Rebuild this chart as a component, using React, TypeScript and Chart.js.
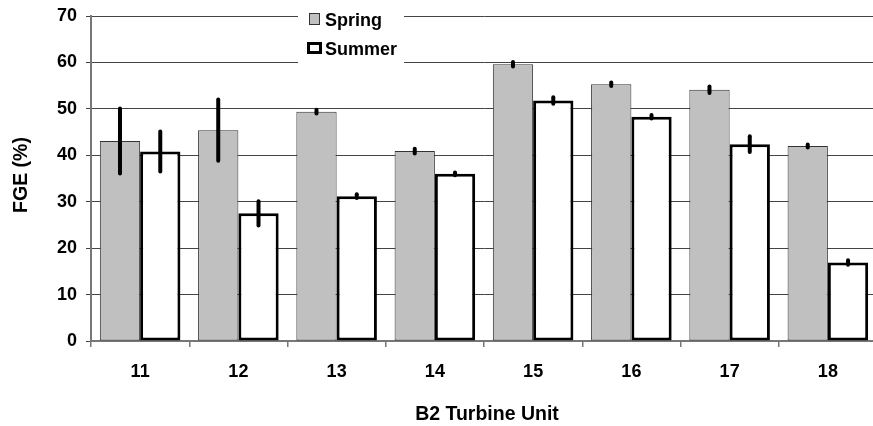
import { useEffect, useRef } from "react";
import { Chart, registerables } from "chart.js";

Chart.register(...registerables);

const categories = ["11", "12", "13", "14", "15", "16", "17", "18"];
const seriesNames = ["Spring", "Summer"];
const springValues = [43.1, 45.4, 49.4, 40.9, 59.6, 55.3, 54.1, 42.0];
const summerValues = [40.8, 27.5, 31.2, 36.0, 51.8, 48.3, 42.4, 16.9];
const springErrors = [7.0, 6.6, 0.4, 0.5, 0.5, 0.4, 0.7, 0.3];
const summerErrors = [4.3, 2.6, 0.4, 0.3, 0.7, 0.4, 1.7, 0.5];
const yMin = 0;
const yMax = 70;
const yStep = 10;
const xTitle = "B2 Turbine Unit";
const yTitle = "FGE (%)";

const FONT = '"Liberation Sans", Arial, sans-serif';

const errorBarPlugin = {
  id: "errorBars",
  afterDatasetsDraw(chart: any) {
    const ctx = chart.ctx;
    const yScale = chart.scales.y;
    const errs = [springErrors, summerErrors];
    ctx.save();
    ctx.strokeStyle = "#000";
    ctx.lineWidth = 4;
    ctx.lineCap = "round";
    chart.data.datasets.forEach((ds: any, di: number) => {
      const meta = chart.getDatasetMeta(di);
      meta.data.forEach((bar: any, i: number) => {
        const v = ds.data[i];
        const e = errs[di][i];
        const y1 = yScale.getPixelForValue(v + e);
        const y2 = yScale.getPixelForValue(v - e);
        ctx.beginPath();
        ctx.moveTo(bar.x, y1);
        ctx.lineTo(bar.x, y2);
        ctx.stroke();
      });
    });
    ctx.restore();
  },
};

const decorPlugin = {
  id: "decor",
  afterDraw(chart: any) {
    const ctx = chart.ctx;
    ctx.save();
    ctx.fillStyle = "#000";
    ctx.font = `bold 19.5px ${FONT}`;
    ctx.textAlign = "center";
    ctx.textBaseline = "alphabetic";
    ctx.fillText(xTitle, 487, 420);
    ctx.save();
    ctx.translate(27, 175);
    ctx.rotate(-Math.PI / 2);
    ctx.fillText(yTitle, 0, 0);
    ctx.restore();

    // legend
    ctx.fillStyle = "#fff";
    ctx.fillRect(298, 0, 106, 68);
    const ds = chart.data.datasets;
    ctx.fillStyle = ds[0].backgroundColor;
    ctx.fillRect(309, 13, 11, 12);
    ctx.strokeStyle = ds[0].borderColor;
    ctx.lineWidth = 1;
    ctx.strokeRect(309.5, 13.5, 10, 11);
    ctx.fillStyle = ds[1].backgroundColor;
    ctx.fillRect(307, 42, 15, 12);
    ctx.strokeStyle = ds[1].borderColor;
    ctx.lineWidth = 3;
    ctx.strokeRect(308.5, 43.5, 12, 9);
    ctx.fillStyle = "#000";
    ctx.font = `bold 18px ${FONT}`;
    ctx.textAlign = "left";
    ctx.fillText(ds[0].label, 325, 26);
    ctx.fillText(ds[1].label, 325, 55);
    ctx.restore();
  },
};

export default function App() {
  const ref = useRef<HTMLCanvasElement | null>(null);
  useEffect(() => {
    if (!ref.current) return;
    const chart = new Chart(ref.current, {
      type: "bar",
      data: {
        labels: categories,
        datasets: [
          {
            label: seriesNames[0],
            data: springValues,
            backgroundColor: "#c0c0c0",
            borderColor: "#333333",
            borderWidth: 1,
            borderSkipped: false,
            categoryPercentage: 0.82,
            barPercentage: 1.0,
          },
          {
            label: seriesNames[1],
            data: summerValues,
            backgroundColor: "#ffffff",
            borderColor: "#000000",
            borderWidth: 3,
            borderSkipped: false,
            categoryPercentage: 0.82,
            barPercentage: 1.0,
          },
        ],
      },
      options: {
        animation: false,
        responsive: false,
        devicePixelRatio: 1,
        layout: { padding: { left: 0, top: 16, right: 1, bottom: 0 } },
        plugins: {
          legend: { display: false },
          tooltip: { enabled: false },
          title: { display: false },
        },
        scales: {
          x: {
            grid: {
              display: true,
              drawOnChartArea: false,
              drawTicks: true,
              tickLength: 6,
              color: "#777777",
              lineWidth: 1.5,
              offset: true,
            },
            border: { display: true, color: "#777777", width: 2 },
            ticks: {
              color: "#000",
              font: { family: FONT, size: 18, weight: "bold" },
              padding: 14,
              maxRotation: 0,
            },
            afterFit: (s: any) => {
              s.height = 85;
              s.paddingLeft = 0;
              s.paddingRight = 0;
              s.paddingTop = 0;
              s.paddingBottom = 0;
            },
          },
          y: {
            min: yMin,
            max: yMax,
            grid: {
              color: "#444444",
              lineWidth: 1,
              tickLength: 5,
            },
            border: { display: true, color: "#777777", width: 2 },
            ticks: {
              stepSize: yStep,
              color: "#000",
              font: { family: FONT, size: 18, weight: "bold" },
              padding: 9,
            },
            afterFit: (s: any) => {
              s.width = 91;
              s.paddingTop = 0;
              s.paddingBottom = 0;
              s.paddingLeft = 0;
              s.paddingRight = 0;
            },
          },
        },
      },
      plugins: [errorBarPlugin, decorPlugin],
    });
    return () => chart.destroy();
  }, []);

  return (
    <div
      style={{
        position: "fixed",
        left: 0,
        top: 0,
        width: 873,
        height: 426,
        overflow: "hidden",
        background: "#fff",
      }}
    >
      <canvas ref={ref} width={878} height={426} style={{ display: "block" }} />
    </div>
  );
}
